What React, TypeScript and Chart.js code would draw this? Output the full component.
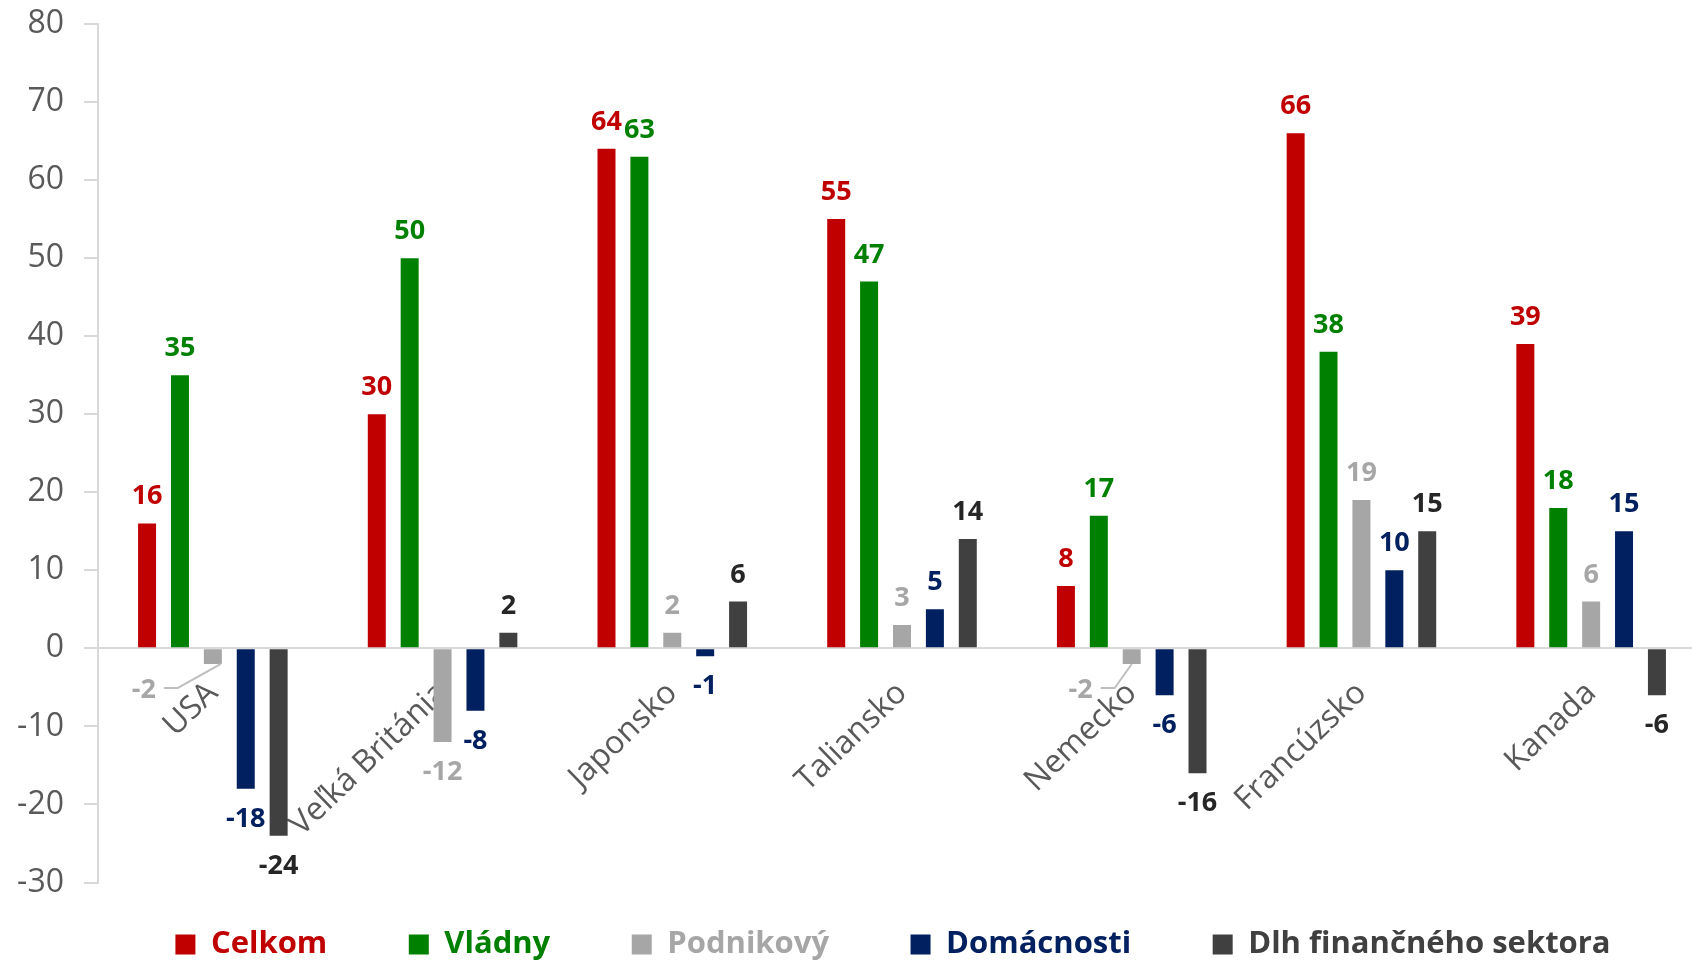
import React, { useEffect, useRef } from "react";
import { Chart, registerables } from "chart.js";

Chart.register(...registerables);

// ---- Data ----
const categories = ["USA", "Veľká Británia", "Japonsko", "Taliansko", "Nemecko", "Francúzsko", "Kanada"];
const seriesNames = ["Celkom", "Vládny", "Podnikový", "Domácnosti", "Dlh finančného sektora"];
const celkom = [16, 30, 64, 55, 8, 66, 39];
const vladny = [35, 50, 63, 47, 17, 38, 18];
const podnikovy = [-2, -12, 2, 3, -2, 19, 6];
const domacnosti = [-18, -8, -1, 5, -6, 10, 15];
const financny = [-24, 2, 6, 14, -16, 15, -6];
const yMin = -30;
const yMax = 80;
const yStep = 10;

// ---- Styles ----
const barColors = ["#c00000", "#008000", "#a6a6a6", "#002060", "#404040"];
const labelColors = ["#c00000", "#008000", "#a6a6a6", "#002060", "#262626"];
const legendTextColors = ["#c00000", "#008000", "#a6a6a6", "#002060", "#404040"];
const FONT = '"Open Sans", "DejaVu Sans", sans-serif';

// callout labels (label placed aside with a leader line)
const callouts = [
  { series: 2, index: 0, labelDx: -57, labelDy: 34, leaderDx: 8 },
  { series: 2, index: 4, labelDx: -39, labelDy: 34, leaderDx: 0 },
];

const CANVAS_W = 1786;
const CANVAS_H = 1005;
const LEGEND_PAD = 81.5;
const LEGEND_ITEM_TOP = 929;

const valueLabels = {
  id: "valueLabels",
  afterDatasetsDraw(chart: any) {
    const ctx = chart.ctx;
    ctx.save();
    ctx.font = `700 27px ${FONT}`;
    ctx.textBaseline = "alphabetic";
    chart.data.datasets.forEach((ds: any, di: number) => {
      const meta = chart.getDatasetMeta(di);
      meta.data.forEach((bar: any, i: number) => {
        const v = ds.data[i];
        const { x, y } = bar.getProps(["x", "y"], true);
        const c = callouts.find((k) => k.series === di && k.index === i);
        ctx.fillStyle = labelColors[di];
        if (c) {
          const labelRight = x + c.labelDx;
          ctx.textAlign = "right";
          ctx.fillText(String(v), labelRight, y + c.labelDy);
          ctx.strokeStyle = "#bfbfbf";
          ctx.lineWidth = 2;
          ctx.beginPath();
          ctx.moveTo(labelRight + 8, y + 24);
          ctx.lineTo(labelRight + 22, y + 24);
          ctx.lineTo(x + c.leaderDx, y);
          ctx.stroke();
        } else {
          ctx.textAlign = "center";
          if (v >= 0) ctx.fillText(String(v), x, y - 19);
          else ctx.fillText(String(v), x, y + 38);
        }
      });
    });
    ctx.restore();
  },
};

const legendShift = {
  id: "legendShift",
  afterLayout(chart: any) {
    const l = chart.legend;
    if (l) {
      const dy = LEGEND_ITEM_TOP - (l.top + LEGEND_PAD);
      l.top += dy;
      l.bottom += dy;
    }
  },
};

export default function App() {
  const ref = useRef<HTMLCanvasElement | null>(null);

  useEffect(() => {
    if (!ref.current) return;
    const seriesData = [celkom, vladny, podnikovy, domacnosti, financny];
    const chart = new Chart(ref.current, {
      type: "bar",
      data: {
        labels: categories,
        datasets: seriesNames.map((name, i) => ({
          label: name,
          data: seriesData[i],
          backgroundColor: barColors[i],
          borderWidth: 0,
          categoryPercentage: 0.716,
          barPercentage: 0.547,
        })),
      },
      options: {
        responsive: false,
        animation: false,
        devicePixelRatio: 1,
        layout: { padding: { top: 24, left: 0, right: 0, bottom: 0 } },
        plugins: {
          tooltip: { enabled: false },
          legend: {
            position: "bottom",
            labels: {
              boxWidth: 20,
              boxHeight: 20,
              padding: LEGEND_PAD,
              font: { family: FONT, size: 31, weight: "bold" },
              generateLabels: () =>
                seriesNames.map((name, i) => ({
                  text: name,
                  fillStyle: barColors[i],
                  strokeStyle: barColors[i],
                  lineWidth: 0,
                  fontColor: legendTextColors[i],
                  hidden: false,
                  datasetIndex: i,
                })),
            },
          },
        },
        scales: {
          x: {
            position: { y: 0 } as any,
            offset: true,
            grid: { display: true, drawOnChartArea: false, drawTicks: false },
            border: { display: true, color: "#d9d9d9", width: 2 },
            ticks: {
              autoSkip: false,
              minRotation: 44,
              maxRotation: 44,
              padding: 26,
              color: "#595959",
              font: { family: FONT, size: 32 },
            },
          },
          y: {
            min: yMin,
            max: yMax,
            ticks: {
              stepSize: yStep,
              padding: 20,
              color: "#595959",
              font: { family: FONT, size: 32 },
            },
            grid: {
              drawOnChartArea: false,
              drawTicks: true,
              tickLength: 14,
              color: "#d9d9d9",
              lineWidth: 2,
            },
            border: { display: true, color: "#d9d9d9", width: 2 },
            afterFit: (s: any) => {
              s.width = 98;
              s.paddingTop = 0;
              s.paddingBottom = 0;
            },
          },
          yR: {
            position: "right",
            display: true,
            min: yMin,
            max: yMax,
            grid: { display: false, drawTicks: false },
            border: { display: false },
            ticks: { display: false },
            afterFit: (s: any) => {
              s.width = 80;
              s.paddingTop = 0;
              s.paddingBottom = 0;
            },
          },
        },
      } as any,
      plugins: [valueLabels, legendShift],
    });
    return () => chart.destroy();
  }, []);

  return (
    <div
      style={{
        position: "absolute",
        left: 0,
        top: 0,
        width: 1692,
        height: 960,
        overflow: "hidden",
        background: "#ffffff",
      }}
    >
      <canvas ref={ref} width={CANVAS_W} height={CANVAS_H} style={{ display: "block" }} />
    </div>
  );
}
